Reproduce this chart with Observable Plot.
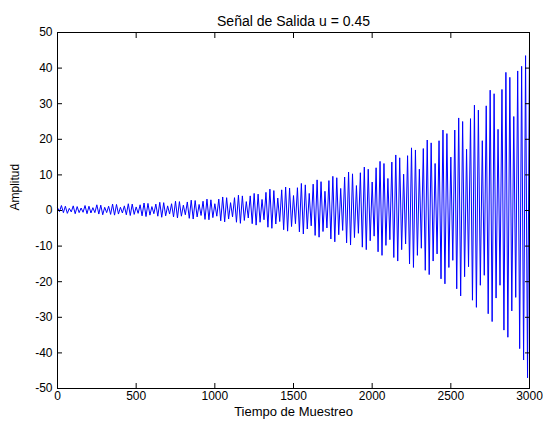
<!DOCTYPE html>
<html>
<head>
<meta charset="utf-8">
<script src="https://cdn.jsdelivr.net/npm/d3@7"></script>
<script src="https://cdn.jsdelivr.net/npm/@observablehq/plot@0.6"></script>
<style>
  html, body { margin: 0; padding: 0; background: #fff; }
  #chart svg { display: block; }
</style>
</head>
<body>
<div id="chart"></div>
<script>
const titulo = "Señal de Salida u = 0.45";
const etiquetaX = "Tiempo de Muestreo";
const etiquetaY = "Amplitud";
const ticksX = [0, 500, 1000, 1500, 2000, 2500, 3000];
const ticksY = [-50, -40, -30, -20, -10, 0, 10, 20, 30, 40, 50];
const paso = 12.5; // muestras entre picos leídos
const salida = [
  0.8, -0.3, 1.4, -0.6, 1.2, -0.8, 0.6, -0.4, 1.3, -0.9, 1.1, -0.6, 0.7, -0.5, 1.4, -0.9, 1.2, -0.7, 0.8, -0.6,
  1.6, -1.0, 1.5, -1.2, 0.9, -0.6, 1.2, -1.1, 1.8, -1.3, 1.7, -1.0, 0.9, -0.7, 1.3, -1.2, 1.9, -1.4, 1.8, -1.1,
  1.0, -0.8, 1.6, -1.5, 2.1, -1.7, 2.0, -1.3, 1.1, -0.9, 1.8, -1.6, 2.3, -1.9, 2.2, -1.5, 1.3, -1.0, 1.9, -1.8,
  2.6, -2.1, 2.5, -1.6, 1.5, -1.2, 2.4, -2.2, 2.9, -2.4, 2.8, -1.8, 1.7, -1.4, 2.6, -2.5, 3.2, -2.6, 3.0, -2.0,
  1.9, -1.6, 3.2, -2.9, 3.8, -3.2, 3.6, -2.4, 2.2, -1.8, 3.6, -3.3, 4.3, -3.6, 4.1, -2.8, 2.5, -2.1, 4.1, -3.7,
  4.8, -4.1, 4.6, -3.3, 3.1, -2.6, 5.1, -4.7, 6.0, -5.0, 5.6, -3.8, 3.5, -3.1, 5.8, -5.4, 6.6, -5.8, 6.3, -4.5,
  4.2, -3.7, 6.4, -6.0, 7.6, -6.6, 7.2, -5.2, 4.8, -4.3, 7.4, -7.0, 8.6, -7.5, 8.1, -5.9, 5.4, -4.9, 8.4, -8.0,
  9.6, -8.8, 9.2, -6.8, 6.2, -5.6, 9.4, -9.1, 10.8, -9.7, 10.3, -7.6, 7.0, -6.4, 10.6, -10.3, 12.2, -11.0, 11.6, -8.5,
  8.0, -7.2, 12.0, -11.6, 13.8, -12.6, 13.2, -9.8, 9.0, -8.2, 13.6, -13.2, 15.6, -14.2, 14.8, -11.0, 10.2, -9.4, 15.4, -15.0,
  17.6, -16.0, 17.0, -12.6, 11.6, -10.6, 17.4, -16.8, 19.8, -18.0, 19.0, -14.2, 13.2, -12.2, 19.6, -19.2, 22.6, -20.6, 21.6, -16.0,
  15.0, -14.0, 22.6, -22.0, 26.0, -24.0, 25.0, -18.6, 17.2, -15.8, 25.8, -25.2, 29.6, -27.2, 28.2, -21.0, 19.6, -18.2, 29.4, -29.0,
  33.8, -31.2, 32.8, -24.6, 22.8, -21.0, 34.0, -33.6, 38.8, -35.6, 37.4, -28.2, 26.4, -24.4, 39.2, -38.8, 40.5, -42.0, 43.5, -47.0,
  46.0
];

const puntos = salida.map((v, i) => ({t: i * paso, v}));
const fuente = "'Liberation Sans', Arial, sans-serif";
const fmt = d => String(d);

const chart = Plot.plot({
  width: 543,
  height: 425,
  marginLeft: 57,
  marginRight: 14,
  marginTop: 32,
  marginBottom: 37,
  style: {fontFamily: fuente, fontSize: "12px", color: "black", background: "white", overflow: "visible"},
  x: {domain: [0, 3000]},
  y: {domain: [-50, 50]},
  marks: [
    Plot.line(puntos, {x: "t", y: "v", stroke: "#0000ff", strokeWidth: 1}),
    Plot.frame({stroke: "black", strokeWidth: 1}),
    Plot.axisX(ticksX, {anchor: "bottom", tickSize: 0, tickPadding: 3, fontSize: 12, tickFormat: fmt, label: null}),
    Plot.axisX(ticksX, {anchor: "bottom", tickSize: -5, tickFormat: () => "", label: null}),
    Plot.axisX(ticksX, {anchor: "top", tickSize: -5, tickFormat: () => "", label: null}),
    Plot.axisY(ticksY, {anchor: "left", tickSize: 0, tickPadding: 5, fontSize: 12, tickFormat: fmt, label: null}),
    Plot.axisY(ticksY, {anchor: "left", tickSize: -5, tickFormat: () => "", label: null}),
    Plot.axisY(ticksY, {anchor: "right", tickSize: -5, tickFormat: () => "", label: null}),
    Plot.text([titulo], {frameAnchor: "top", dy: -16, fontSize: 14}),
    Plot.text([etiquetaX], {frameAnchor: "bottom", dy: 27, fontSize: 13}),
    Plot.text([etiquetaY], {frameAnchor: "left", dx: -42, rotate: -90, fontSize: 12})
  ]
});
document.getElementById("chart").appendChild(chart);
</script>
</body>
</html>
